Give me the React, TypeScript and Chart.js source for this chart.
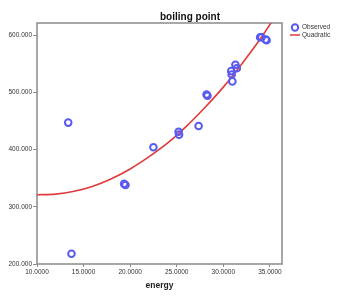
import React, { useEffect, useRef } from "react";
import { Chart, registerables } from "chart.js";

Chart.register(...registerables);

const energy = [13.35, 13.7, 19.35, 19.5, 22.5, 25.2, 25.25, 27.35, 28.2, 28.3, 30.85, 30.9, 30.97, 31.3, 31.45, 33.95, 34.1, 34.55, 34.65];
const boilingPoint = [447, 218, 340, 338, 404, 431, 426, 441, 496, 494, 537, 531, 519, 548, 542, 596, 596, 592, 591];
const fitEnergy = [10, 12, 14, 16, 18, 20, 22, 24, 26, 28, 30, 32, 34, 36];
const fitBoiling = [321, 322, 327, 336, 349, 366, 387, 411, 440, 473, 509, 550, 594, 643];
const seriesNames = ["Observed", "Quadratic"];
const chartTitle = "boiling point";
const xTitle = "energy";

const POINT_COLOR = "#5a5af0";
const LINE_COLOR = "#e03a3a";
const FRAME_COLOR = "#8a8a8a";

const decorPlugin = {
  id: "decor",
  beforeDatasetsDraw(chart: any) {
    const { ctx, chartArea } = chart;
    ctx.save();
    ctx.strokeStyle = FRAME_COLOR;
    ctx.lineWidth = 1.5;
    ctx.strokeRect(chartArea.left, chartArea.top, chartArea.right - chartArea.left, chartArea.bottom - chartArea.top);
    ctx.restore();
  },
  afterDraw(chart: any) {
    const { ctx, chartArea, width } = chart;
    ctx.save();
    // title
    ctx.fillStyle = "#111";
    ctx.font = "bold 10px 'Liberation Sans', Arial, sans-serif";
    ctx.textAlign = "center";
    ctx.textBaseline = "middle";
    ctx.fillText(chartTitle, (chartArea.left + width) / 2 + 3, 17);
    // legend
    const lx = chartArea.right + 13;
    ctx.strokeStyle = POINT_COLOR;
    ctx.lineWidth = 2;
    ctx.beginPath();
    ctx.arc(lx, 27.5, 3.2, 0, Math.PI * 2);
    ctx.stroke();
    ctx.strokeStyle = LINE_COLOR;
    ctx.lineWidth = 1.5;
    ctx.beginPath();
    ctx.moveTo(lx - 5, 35);
    ctx.lineTo(lx + 5, 35);
    ctx.stroke();
    ctx.fillStyle = "#333";
    ctx.font = "6.5px 'Liberation Sans', Arial, sans-serif";
    ctx.textAlign = "left";
    ctx.fillText(seriesNames[0], lx + 7, 27.5);
    ctx.fillText(seriesNames[1], lx + 7, 35);
    ctx.restore();
  },
};

export default function App() {
  const ref = useRef<HTMLCanvasElement | null>(null);
  useEffect(() => {
    document.body.style.margin = "0";
    const canvas = ref.current;
    if (!canvas) return;
    const chart = new Chart(canvas, {
      type: "scatter",
      data: {
        datasets: [
          {
            label: seriesNames[0],
            data: energy.map((x, i) => ({ x, y: boilingPoint[i] })),
            pointRadius: 3.3,
            pointBorderWidth: 2,
            pointBorderColor: POINT_COLOR,
            pointBackgroundColor: "rgba(255,255,255,0)",
            order: 0,
          },
          {
            label: seriesNames[1],
            data: fitEnergy.map((x, i) => ({ x, y: fitBoiling[i] })),
            showLine: true,
            pointRadius: 0,
            borderColor: LINE_COLOR,
            borderWidth: 1.6,
            tension: 0.4,
            cubicInterpolationMode: "monotone",
            order: 1,
          } as any,
        ],
      },
      options: {
        animation: false,
        responsive: true,
        maintainAspectRatio: false,
        layout: { padding: { top: 23, right: 55, bottom: 0, left: 0 } },
        plugins: { legend: { display: false }, tooltip: { enabled: false }, title: { display: false } },
        scales: {
          x: {
            type: "linear",
            min: 10,
            max: 36.3,
            afterFit: (s: any) => { s.height = 33; },
            afterBuildTicks: (s: any) => { s.ticks = [10, 15, 20, 25, 30, 35].map((v) => ({ value: v })); },
            ticks: {
              font: { size: 6.5, family: "'Liberation Sans', Arial, sans-serif" },
              color: "#333",
              padding: 1,
              maxRotation: 0,
              callback: (v: any) => Number(v).toFixed(4),
            },
            grid: { drawOnChartArea: false, drawTicks: true, tickLength: 3, color: FRAME_COLOR },
            border: { display: false },
            title: {
              display: true,
              text: xTitle,
              color: "#222",
              font: { size: 8.5, weight: "bold", family: "'Liberation Sans', Arial, sans-serif" },
              padding: { top: 2, bottom: 6 },
            },
          },
          y: {
            type: "linear",
            min: 200,
            max: 621,
            afterFit: (s: any) => { s.width = 37; },
            afterBuildTicks: (s: any) => { s.ticks = [200, 300, 400, 500, 600].map((v) => ({ value: v })); },
            ticks: {
              font: { size: 6.5, family: "'Liberation Sans', Arial, sans-serif" },
              color: "#333",
              padding: 1,
              callback: (v: any) => Number(v).toFixed(3),
            },
            grid: { drawOnChartArea: false, drawTicks: true, tickLength: 4, color: FRAME_COLOR },
            border: { display: false },
          },
        },
      },
      plugins: [decorPlugin],
    });
    return () => chart.destroy();
  }, []);
  return (
    <div style={{ width: 337, height: 297, position: "relative", background: "#fff" }}>
      <canvas ref={ref} />
    </div>
  );
}
